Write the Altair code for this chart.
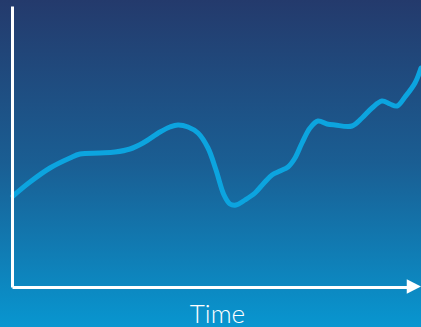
import altair as alt
import pandas as pd

# Data (time units, value units)
time = [1, 18, 38, 58, 68, 88, 103, 118, 131, 148, 158, 166, 176, 186, 196, 204,
        212, 218, 224, 233, 243, 252, 260, 268, 276, 283, 290, 298, 306, 315, 323,
        340, 350, 360, 370, 378, 385, 393, 403, 409]
value = [91, 105, 119, 129, 133, 134, 135, 138, 144, 155, 160, 162, 160, 154, 139,
         117, 92, 83, 82, 87, 94, 104, 112, 116, 120, 129, 144, 159, 166, 163, 162,
         161, 169, 179, 186, 183, 181, 190, 204, 219]
x_label = "Time"

df = pd.DataFrame({"time": time, "value": value})

W, H = 396, 281

bg = alt.Chart(pd.DataFrame({"a": [0]})).mark_rect(
    fill=alt.Gradient(
        gradient="linear",
        stops=[
            alt.GradientStop(color="#243a6c", offset=0),
            alt.GradientStop(color="#1a5e93", offset=0.5),
            alt.GradientStop(color="#0896d0", offset=1),
        ],
        x1=0, x2=0, y1=0, y2=1,
    ),
    strokeWidth=0,
).encode(
    x=alt.value(-12), x2=alt.value(W + 13),
    y=alt.value(-6), y2=alt.value(H + 40),
)

line = alt.Chart(df).mark_line(
    color="#0ca4df", strokeWidth=5, interpolate="catmull-rom", strokeCap="round"
).encode(
    x=alt.X("time:Q", scale=alt.Scale(domain=[0, W], nice=False, zero=False),
            axis=alt.Axis(domainColor="white", domainWidth=3, ticks=False,
                          labels=False, grid=False, title=x_label,
                          titleColor="white", titleFont="Lato",
                          titleFontWeight=300, titleFontSize=26,
                          titleX=205, titleY=35, titleBaseline="alphabetic",
                          zindex=1)),
    y=alt.Y("value:Q", scale=alt.Scale(domain=[0, H], nice=False, zero=False),
            axis=alt.Axis(domainColor="white", domainWidth=3, ticks=False,
                          labels=False, grid=False, title=None, zindex=1)),
)

arrow = alt.Chart(pd.DataFrame({"a": [0]})).mark_point(
    shape="M-1,-1L1,0L-1,1Z", filled=True, color="white", opacity=1, size=210
).encode(x=alt.value(W + 6), y=alt.value(H - 0.5))

chart = alt.layer(bg, line, arrow).properties(
    width=W, height=H,
    autosize=alt.AutoSizeParams(type="none"),
    padding={"left": 12, "top": 6, "right": 13, "bottom": 40},
).configure_view(stroke=None).configure(background="#1a5a90")

chart.save("out.html", embed_options={"renderer": "svg", "actions": False})
